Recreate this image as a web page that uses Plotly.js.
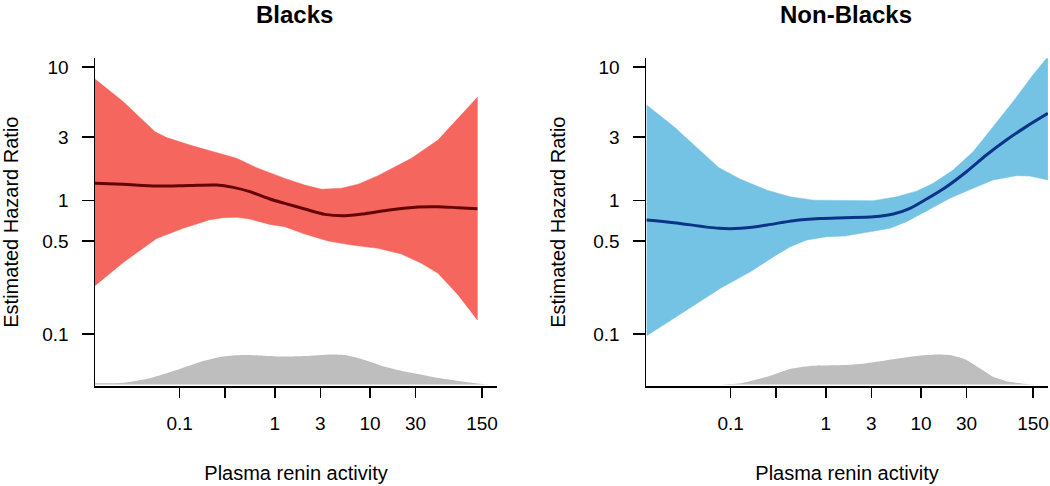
<!DOCTYPE html>
<html>
<head>
<meta charset="utf-8">
<script src="https://cdn.plot.ly/plotly-3.0.1.min.js"></script>
<style>html,body{margin:0;padding:0;background:#fff;}#chart{width:1050px;height:486px;}</style>
</head>
<body>
<div id="chart"></div>
<script>
// ---- Data ----
// Panel titles
const panelTitles = ["Blacks", "Non-Blacks"];
// X tick values / labels (plasma renin activity, log scale)
const xTickVals = [0.1, 0.3, 1, 3, 10, 30, 150];
const xTickText = ["0.1", "", "1", "3", "10", "30", "150"];
// Y tick values / labels (hazard ratio, log scale)
const yTickVals = [0.1, 0.5, 1, 3, 10];
const yTickText = ["0.1", "0.5", "1", "3", "10"];

// Blacks
const blkUpperX = [0.0129, 0.0256, 0.055, 0.073, 0.128, 0.287, 0.396, 0.642, 1.27, 2.06, 3.09, 5.01, 7.49, 12.1, 27.2, 51.7, 84, 134];
const blkUpper  = [8.16, 5.52, 3.29, 2.97, 2.61, 2.22, 2.08, 1.77, 1.47, 1.31, 1.22, 1.24, 1.33, 1.54, 2.08, 2.85, 4.14, 5.95];
const blkLowerX = [0.0129, 0.0256, 0.0573, 0.109, 0.208, 0.287, 0.396, 0.547, 0.886, 1.27, 2.06, 3.63, 6.38, 12.1, 21.3, 34.6, 51.7, 84, 134];
const blkLower  = [0.231, 0.345, 0.522, 0.621, 0.721, 0.746, 0.751, 0.729, 0.665, 0.639, 0.563, 0.499, 0.466, 0.440, 0.399, 0.340, 0.286, 0.197, 0.128];
const blkEstX   = [0.0129, 0.0256, 0.0573, 0.128, 0.244, 0.365, 0.547, 0.886, 1.27, 2.06, 3.35, 5.43, 8.80, 16.8, 31.9, 51.7, 84, 134];
const blkEst    = [1.349, 1.326, 1.288, 1.303, 1.311, 1.259, 1.169, 1.030, 0.955, 0.867, 0.790, 0.772, 0.800, 0.857, 0.897, 0.902, 0.887, 0.872];
const blkDensX  = [0.0129, 0.0256, 0.0488, 0.0929, 0.177, 0.287, 0.465, 0.755, 1.27, 2.06, 3.93, 5.43, 8.12, 14.3, 23.1, 44.1, 83.9, 160, 210];
const blkDens   = [0.04, 0.06, 0.21, 0.48, 0.78, 0.93, 0.98, 0.96, 0.93, 0.95, 1.0, 0.98, 0.85, 0.59, 0.43, 0.26, 0.12, 0.01, 0.0];

// Non-Blacks
const nbUpperX = [0.0131, 0.0254, 0.0752, 0.127, 0.241, 0.423, 0.743, 1.59, 3.16, 5.54, 8.97, 13.4, 21.7, 35.2, 57.0, 92.3, 149.5, 214.6];
const nbUpper  = [5.21, 3.59, 1.77, 1.45, 1.20, 1.07, 1.01, 1.0, 1.0, 1.07, 1.18, 1.35, 1.70, 2.33, 3.59, 5.52, 8.74, 12.0];
const nbLowerX = [0.0131, 0.0254, 0.0782, 0.161, 0.283, 0.423, 0.632, 1.02, 1.59, 2.69, 4.72, 7.05, 11.4, 20.0, 35.2, 57.0, 100, 137.9, 214.6];
const nbLower  = [0.0974, 0.1315, 0.2207, 0.294, 0.381, 0.453, 0.508, 0.538, 0.544, 0.580, 0.621, 0.697, 0.837, 1.042, 1.238, 1.429, 1.540, 1.531, 1.429];
const nbEstX   = [0.0131, 0.0254, 0.0752, 0.127, 0.241, 0.459, 0.872, 1.59, 3.16, 5.11, 7.64, 11.42, 18.49, 29.95, 48.52, 78.6, 127.3, 214.6];
const nbEst    = [0.717, 0.685, 0.621, 0.621, 0.658, 0.709, 0.735, 0.745, 0.758, 0.795, 0.877, 1.030, 1.274, 1.650, 2.20, 2.85, 3.59, 4.51];
const nbDensX  = [0.0131, 0.05, 0.0782, 0.127, 0.241, 0.423, 0.686, 1.59, 2.69, 5.11, 8.97, 14.5, 20.0, 29.95, 41.3, 57.0, 85.2, 127.3, 214.6];
const nbDens   = [0, 0, 0, 0.04, 0.26, 0.52, 0.62, 0.65, 0.71, 0.84, 0.95, 1.0, 0.98, 0.82, 0.54, 0.26, 0.09, 0.02, 0.0];

// ---- Styles ----
const FONT = "Liberation Sans, Arial, Helvetica, sans-serif";
const redFill = "#F5675E", redLine = "#640404";
const blueFill = "#74C3E5", blueLine = "#0B3489";
const grayFill = "#BEBEBE";

function band(ux, uy, lx, ly) {
  return {
    x: ux.concat(lx.slice().reverse()),
    y: uy.concat(ly.slice().reverse())
  };
}
const bBand = band(blkUpperX, blkUpper, blkLowerX, blkLower);
const nBand = band(nbUpperX, nbUpper, nbLowerX, nbLower);

const traces = [
  {x: blkDensX, y: blkDens, xaxis: "x", yaxis: "y3", type: "scatter", mode: "lines",
   fill: "tozeroy", fillcolor: grayFill, line: {width: 0, color: grayFill, shape: "spline", smoothing: 0.6}, hoverinfo: "skip", showlegend: false},
  {x: bBand.x, y: bBand.y, xaxis: "x", yaxis: "y", type: "scatter", mode: "lines",
   fill: "toself", fillcolor: redFill, line: {width: 0.5, color: redFill}, showlegend: false},
  {x: blkEstX, y: blkEst, xaxis: "x", yaxis: "y", type: "scatter", mode: "lines",
   line: {width: 3, color: redLine, shape: "spline", smoothing: 0.8}, showlegend: false},

  {x: nbDensX, y: nbDens, xaxis: "x2", yaxis: "y4", type: "scatter", mode: "lines",
   fill: "tozeroy", fillcolor: grayFill, line: {width: 0, color: grayFill, shape: "spline", smoothing: 0.6}, hoverinfo: "skip", showlegend: false},
  {x: nBand.x, y: nBand.y, xaxis: "x2", yaxis: "y2", type: "scatter", mode: "lines",
   fill: "toself", fillcolor: blueFill, line: {width: 0.5, color: blueFill}, showlegend: false},
  {x: nbEstX, y: nbEst, xaxis: "x2", yaxis: "y2", type: "scatter", mode: "lines",
   line: {width: 3, color: blueLine, shape: "spline", smoothing: 0.8}, showlegend: false}
];

const W = 1050, H = 486;
const yDom = [1 - 386 / H, 1 - 58.3 / H];
const xRange = [-1.889, 2.333];
const yRange = [-1.388, 1.067];

function xAxis(dom, anchor) {
  return {
    domain: dom, anchor: anchor, type: "log", range: xRange,
    tickmode: "array", tickvals: xTickVals, ticktext: xTickText,
    ticks: "outside", ticklen: 10, tickwidth: 1.5, tickcolor: "#000",
    showline: true, linecolor: "#000", linewidth: 1.5,
    showgrid: false, zeroline: false, ticklabelstandoff: 10,
    tickfont: {family: FONT, size: 19, color: "#000"},
    title: {text: "Plasma renin activity", font: {family: FONT, size: 20, color: "#000"}, standoff: 32}
  };
}
function yAxis(anchor) {
  return {
    domain: yDom, anchor: anchor, type: "log", range: yRange,
    tickmode: "array", tickvals: yTickVals, ticktext: yTickText,
    ticks: "outside", ticklen: 12, tickwidth: 1.5, tickcolor: "#000",
    showline: true, linecolor: "#000", linewidth: 1.5,
    showgrid: false, zeroline: false, ticklabelstandoff: 9,
    tickfont: {family: FONT, size: 19, color: "#000"},
    title: {text: "Estimated Hazard Ratio", font: {family: FONT, size: 20, color: "#000"}, standoff: 22}
  };
}
function densAxis(over) {
  return {overlaying: over, domain: yDom, range: [-0.05, 10.87], visible: false, showgrid: false, zeroline: false, fixedrange: true};
}

const layout = {
  width: W, height: H,
  margin: {l: 0, r: 0, t: 0, b: 0},
  paper_bgcolor: "#fff", plot_bgcolor: "rgba(0,0,0,0)",
  font: {family: FONT, color: "#000"},
  showlegend: false,
  xaxis: xAxis([95 / W, 497 / W], "y"),
  yaxis: yAxis("x"),
  xaxis2: xAxis([646 / W, 1048 / W], "y2"),
  yaxis2: yAxis("x2"),
  yaxis3: Object.assign(densAxis("y"), {anchor: "x"}),
  yaxis4: Object.assign(densAxis("y2"), {anchor: "x2"}),
  annotations: [
    {text: "<b>" + panelTitles[0] + "</b>", xref: "paper", yref: "paper", x: 294 / W, y: 1,
     xanchor: "center", yanchor: "top", borderpad: 0, showarrow: false, font: {family: FONT, size: 24, color: "#000"}},
    {text: "<b>" + panelTitles[1] + "</b>", xref: "paper", yref: "paper", x: 846 / W, y: 1,
     xanchor: "center", yanchor: "top", borderpad: 0, showarrow: false, font: {family: FONT, size: 24, color: "#000"}}
  ]
};

Plotly.newPlot("chart", traces, layout, {staticPlot: true, displayModeBar: false});
</script>
</body>
</html>
